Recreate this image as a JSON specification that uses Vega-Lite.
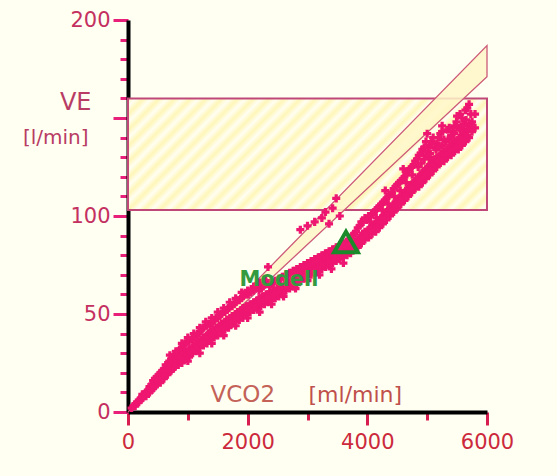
{
  "$schema": "https://vega.github.io/schema/vega-lite/v6.json",
  "width": 359,
  "height": 392,
  "autosize": {"type": "none"},
  "padding": {"left": 128, "top": 20, "right": 70, "bottom": 64},
  "background": "#fffff2",
  "config": {"view": {"stroke": null}, "font": "DejaVu Sans"},
  "datasets": {
    "zone": [{"x1": 0, "x2": 6000, "y1": 103, "y2": 160}],
    "band": [{"vco2": 0, "lo": 0, "hi": 0}, {"vco2": 6000, "lo": 171, "hi": 187}],
    "model": [{"vco2": 3643, "ve": 86.7, "label": "Modell"}],
    "pts": [
      {"vco2":60,"ve":2},{"vco2":120,"ve":4},{"vco2":120,"ve":3},{"vco2":180,"ve":6},{"vco2":180,"ve":5},
      {"vco2":240,"ve":8},{"vco2":240,"ve":7},{"vco2":240,"ve":9},{"vco2":300,"ve":10},{"vco2":300,"ve":8},
      {"vco2":360,"ve":12},{"vco2":360,"ve":10},{"vco2":360,"ve":13},{"vco2":420,"ve":14},{"vco2":420,"ve":12},{"vco2":420,"ve":16},
      {"vco2":480,"ve":16},{"vco2":480,"ve":14},{"vco2":480,"ve":18},{"vco2":540,"ve":18},{"vco2":540,"ve":15},{"vco2":540,"ve":20},
      {"vco2":600,"ve":20},{"vco2":600,"ve":17},{"vco2":600,"ve":22},{"vco2":660,"ve":22},{"vco2":660,"ve":19},{"vco2":660,"ve":24},
      {"vco2":720,"ve":24},{"vco2":720,"ve":21},{"vco2":720,"ve":27},{"vco2":780,"ve":26},{"vco2":780,"ve":23},{"vco2":780,"ve":29},
      {"vco2":840,"ve":27},{"vco2":840,"ve":24},{"vco2":840,"ve":31},{"vco2":900,"ve":29},{"vco2":900,"ve":25},{"vco2":900,"ve":33},
      {"vco2":960,"ve":30},{"vco2":960,"ve":27},{"vco2":960,"ve":35},{"vco2":1020,"ve":32},{"vco2":1020,"ve":28},{"vco2":1020,"ve":36},
      {"vco2":1080,"ve":33},{"vco2":1080,"ve":30},{"vco2":1080,"ve":38},{"vco2":1140,"ve":35},{"vco2":1140,"ve":31},{"vco2":1140,"ve":39},
      {"vco2":1200,"ve":36},{"vco2":1200,"ve":33},{"vco2":1200,"ve":41},{"vco2":1260,"ve":38},{"vco2":1260,"ve":34},{"vco2":1260,"ve":43},
      {"vco2":1320,"ve":39},{"vco2":1320,"ve":35},{"vco2":1320,"ve":44},{"vco2":1380,"ve":41},{"vco2":1380,"ve":37},{"vco2":1380,"ve":45},
      {"vco2":1440,"ve":42},{"vco2":1440,"ve":38},{"vco2":1440,"ve":47},{"vco2":1500,"ve":43},{"vco2":1500,"ve":39},{"vco2":1500,"ve":48},
      {"vco2":1560,"ve":45},{"vco2":1560,"ve":41},{"vco2":1560,"ve":50},{"vco2":1620,"ve":46},{"vco2":1620,"ve":42},{"vco2":1620,"ve":51},
      {"vco2":1680,"ve":47},{"vco2":1680,"ve":43},{"vco2":1680,"ve":53},{"vco2":1740,"ve":49},{"vco2":1740,"ve":45},{"vco2":1740,"ve":54},
      {"vco2":1800,"ve":50},{"vco2":1800,"ve":46},{"vco2":1800,"ve":56},{"vco2":1860,"ve":51},{"vco2":1860,"ve":47},{"vco2":1860,"ve":57},
      {"vco2":1920,"ve":53},{"vco2":1920,"ve":48},{"vco2":1920,"ve":59},{"vco2":1980,"ve":54},{"vco2":1980,"ve":50},{"vco2":1980,"ve":60},
      {"vco2":2040,"ve":55},{"vco2":2040,"ve":51},{"vco2":2040,"ve":61},{"vco2":2100,"ve":56},{"vco2":2100,"ve":52},{"vco2":2100,"ve":62},
      {"vco2":2160,"ve":57},{"vco2":2160,"ve":53},{"vco2":2160,"ve":64},{"vco2":2220,"ve":58},{"vco2":2220,"ve":54},{"vco2":2220,"ve":63},
      {"vco2":2280,"ve":59},{"vco2":2280,"ve":55},{"vco2":2280,"ve":65},{"vco2":2340,"ve":60},{"vco2":2340,"ve":56},{"vco2":2340,"ve":74},
      {"vco2":2400,"ve":61},{"vco2":2400,"ve":57},{"vco2":2400,"ve":66},{"vco2":2460,"ve":62},{"vco2":2460,"ve":58},{"vco2":2460,"ve":67},
      {"vco2":2520,"ve":63},{"vco2":2520,"ve":59},{"vco2":2520,"ve":68},{"vco2":2580,"ve":64},{"vco2":2580,"ve":60},{"vco2":2580,"ve":69},
      {"vco2":2640,"ve":65},{"vco2":2640,"ve":62},{"vco2":2640,"ve":70},{"vco2":2700,"ve":66},{"vco2":2700,"ve":63},{"vco2":2700,"ve":71},
      {"vco2":2760,"ve":68},{"vco2":2760,"ve":64},{"vco2":2760,"ve":72},{"vco2":2820,"ve":69},{"vco2":2820,"ve":65},{"vco2":2820,"ve":73},
      {"vco2":2880,"ve":70},{"vco2":2880,"ve":67},{"vco2":2880,"ve":74},{"vco2":2880,"ve":93},{"vco2":2940,"ve":71},{"vco2":2940,"ve":68},{"vco2":2940,"ve":75},
      {"vco2":3000,"ve":72},{"vco2":3000,"ve":69},{"vco2":3000,"ve":76},{"vco2":3000,"ve":95},{"vco2":3060,"ve":73},{"vco2":3060,"ve":70},{"vco2":3060,"ve":77},
      {"vco2":3120,"ve":74},{"vco2":3120,"ve":71},{"vco2":3120,"ve":78},{"vco2":3120,"ve":97},{"vco2":3180,"ve":75},{"vco2":3180,"ve":72},{"vco2":3180,"ve":79},
      {"vco2":3240,"ve":76},{"vco2":3240,"ve":73},{"vco2":3240,"ve":80},{"vco2":3240,"ve":99},{"vco2":3300,"ve":77},{"vco2":3300,"ve":74},{"vco2":3300,"ve":81},{"vco2":3300,"ve":102},
      {"vco2":3360,"ve":78},{"vco2":3360,"ve":75},{"vco2":3360,"ve":82},{"vco2":3360,"ve":96},{"vco2":3420,"ve":79},{"vco2":3420,"ve":76},{"vco2":3420,"ve":83},{"vco2":3420,"ve":104},
      {"vco2":3480,"ve":80},{"vco2":3480,"ve":77},{"vco2":3480,"ve":84},{"vco2":3480,"ve":109},{"vco2":3540,"ve":81},{"vco2":3540,"ve":78},{"vco2":3540,"ve":85},{"vco2":3540,"ve":100},
      {"vco2":3600,"ve":82},{"vco2":3600,"ve":79},{"vco2":3600,"ve":86},{"vco2":3660,"ve":83},{"vco2":3660,"ve":80},{"vco2":3660,"ve":87},
      {"vco2":3720,"ve":84},{"vco2":3720,"ve":81},{"vco2":3720,"ve":89},{"vco2":3780,"ve":86},{"vco2":3780,"ve":83},{"vco2":3780,"ve":91},
      {"vco2":3840,"ve":88},{"vco2":3840,"ve":84},{"vco2":3840,"ve":94},{"vco2":3900,"ve":90},{"vco2":3900,"ve":86},{"vco2":3900,"ve":97},
      {"vco2":3960,"ve":92},{"vco2":3960,"ve":88},{"vco2":3960,"ve":99},{"vco2":4020,"ve":93},{"vco2":4020,"ve":89},{"vco2":4020,"ve":100},
      {"vco2":4080,"ve":95},{"vco2":4080,"ve":91},{"vco2":4080,"ve":101},{"vco2":4140,"ve":96},{"vco2":4140,"ve":92},{"vco2":4140,"ve":103},
      {"vco2":4200,"ve":98},{"vco2":4200,"ve":94},{"vco2":4200,"ve":105},{"vco2":4260,"ve":100},{"vco2":4260,"ve":96},{"vco2":4260,"ve":107},
      {"vco2":4320,"ve":102},{"vco2":4320,"ve":98},{"vco2":4320,"ve":109},{"vco2":4380,"ve":104},{"vco2":4380,"ve":100},{"vco2":4380,"ve":111},
      {"vco2":4440,"ve":106},{"vco2":4440,"ve":102},{"vco2":4440,"ve":114},{"vco2":4500,"ve":108},{"vco2":4500,"ve":104},{"vco2":4500,"ve":116},
      {"vco2":4560,"ve":110},{"vco2":4560,"ve":106},{"vco2":4560,"ve":118},{"vco2":4620,"ve":112},{"vco2":4620,"ve":108},{"vco2":4620,"ve":120},
      {"vco2":4680,"ve":114},{"vco2":4680,"ve":110},{"vco2":4680,"ve":123},{"vco2":4740,"ve":116},{"vco2":4740,"ve":112},{"vco2":4740,"ve":125},
      {"vco2":4800,"ve":118},{"vco2":4800,"ve":114},{"vco2":4800,"ve":128},{"vco2":4860,"ve":120},{"vco2":4860,"ve":115},{"vco2":4860,"ve":131},
      {"vco2":4920,"ve":122},{"vco2":4920,"ve":117},{"vco2":4920,"ve":134},{"vco2":4980,"ve":124},{"vco2":4980,"ve":119},{"vco2":4980,"ve":138},{"vco2":4980,"ve":131},
      {"vco2":5040,"ve":126},{"vco2":5040,"ve":121},{"vco2":5040,"ve":136},{"vco2":5040,"ve":130},{"vco2":5100,"ve":128},{"vco2":5100,"ve":123},{"vco2":5100,"ve":140},
      {"vco2":5160,"ve":130},{"vco2":5160,"ve":125},{"vco2":5160,"ve":137},{"vco2":5220,"ve":131},{"vco2":5220,"ve":127},{"vco2":5220,"ve":142},
      {"vco2":5280,"ve":133},{"vco2":5280,"ve":128},{"vco2":5280,"ve":139},{"vco2":5340,"ve":134},{"vco2":5340,"ve":130},{"vco2":5340,"ve":144},
      {"vco2":5400,"ve":136},{"vco2":5400,"ve":131},{"vco2":5400,"ve":141},{"vco2":5460,"ve":138},{"vco2":5460,"ve":133},{"vco2":5460,"ve":146},
      {"vco2":5520,"ve":139},{"vco2":5520,"ve":134},{"vco2":5520,"ve":145},{"vco2":5580,"ve":141},{"vco2":5580,"ve":136},{"vco2":5580,"ve":150},
      {"vco2":5640,"ve":143},{"vco2":5640,"ve":138},{"vco2":5640,"ve":154},{"vco2":5700,"ve":146},{"vco2":5700,"ve":140},{"vco2":5700,"ve":157},
      {"vco2":5750,"ve":148},{"vco2":5750,"ve":143},{"vco2":5800,"ve":152},{"vco2":5800,"ve":145},
      {"vco2":90,"ve":3},{"vco2":150,"ve":5},{"vco2":210,"ve":7},{"vco2":210,"ve":6},{"vco2":270,"ve":9},{"vco2":270,"ve":8},
      {"vco2":330,"ve":11},{"vco2":330,"ve":10},{"vco2":390,"ve":13},{"vco2":390,"ve":11},{"vco2":390,"ve":14},
      {"vco2":450,"ve":15},{"vco2":450,"ve":13},{"vco2":450,"ve":17},{"vco2":510,"ve":17},{"vco2":510,"ve":16},{"vco2":510,"ve":19},
      {"vco2":570,"ve":19},{"vco2":570,"ve":17},{"vco2":570,"ve":21},{"vco2":630,"ve":21},{"vco2":630,"ve":19},{"vco2":630,"ve":24},
      {"vco2":690,"ve":23},{"vco2":690,"ve":21},{"vco2":690,"ve":26},{"vco2":750,"ve":25},{"vco2":750,"ve":22},{"vco2":750,"ve":28},
      {"vco2":810,"ve":26},{"vco2":810,"ve":24},{"vco2":810,"ve":30},{"vco2":870,"ve":28},{"vco2":870,"ve":26},{"vco2":870,"ve":32},
      {"vco2":930,"ve":30},{"vco2":930,"ve":27},{"vco2":930,"ve":34},{"vco2":990,"ve":31},{"vco2":990,"ve":29},{"vco2":990,"ve":36},
      {"vco2":1050,"ve":32},{"vco2":1050,"ve":30},{"vco2":1050,"ve":37},{"vco2":1110,"ve":34},{"vco2":1110,"ve":32},{"vco2":1110,"ve":38},
      {"vco2":1170,"ve":35},{"vco2":1170,"ve":33},{"vco2":1170,"ve":40},{"vco2":1230,"ve":37},{"vco2":1230,"ve":35},{"vco2":1230,"ve":42},
      {"vco2":1290,"ve":38},{"vco2":1290,"ve":36},{"vco2":1290,"ve":44},{"vco2":1350,"ve":40},{"vco2":1350,"ve":38},{"vco2":1350,"ve":45},
      {"vco2":1410,"ve":41},{"vco2":1410,"ve":39},{"vco2":1410,"ve":46},{"vco2":1470,"ve":43},{"vco2":1470,"ve":41},{"vco2":1470,"ve":48},
      {"vco2":1530,"ve":44},{"vco2":1530,"ve":42},{"vco2":1530,"ve":49},{"vco2":1590,"ve":45},{"vco2":1590,"ve":43},{"vco2":1590,"ve":51},
      {"vco2":1650,"ve":47},{"vco2":1650,"ve":45},{"vco2":1650,"ve":52},{"vco2":1710,"ve":48},{"vco2":1710,"ve":46},{"vco2":1710,"ve":54},
      {"vco2":1770,"ve":49},{"vco2":1770,"ve":47},{"vco2":1770,"ve":55},{"vco2":1830,"ve":51},{"vco2":1830,"ve":49},{"vco2":1830,"ve":57},
      {"vco2":1890,"ve":52},{"vco2":1890,"ve":50},{"vco2":1890,"ve":58},{"vco2":1950,"ve":53},{"vco2":1950,"ve":51},{"vco2":1950,"ve":60},
      {"vco2":2010,"ve":54},{"vco2":2010,"ve":52},{"vco2":2010,"ve":60},{"vco2":2070,"ve":55},{"vco2":2070,"ve":53},{"vco2":2070,"ve":62},
      {"vco2":2130,"ve":56},{"vco2":2130,"ve":54},{"vco2":2130,"ve":63},{"vco2":2190,"ve":58},{"vco2":2190,"ve":56},{"vco2":2190,"ve":62},
      {"vco2":2250,"ve":59},{"vco2":2250,"ve":57},{"vco2":2250,"ve":64},{"vco2":2310,"ve":60},{"vco2":2310,"ve":58},{"vco2":2310,"ve":66},
      {"vco2":2370,"ve":61},{"vco2":2370,"ve":59},{"vco2":2370,"ve":64},{"vco2":2430,"ve":62},{"vco2":2430,"ve":60},{"vco2":2430,"ve":66},
      {"vco2":2490,"ve":63},{"vco2":2490,"ve":61},{"vco2":2490,"ve":67},{"vco2":2550,"ve":64},{"vco2":2550,"ve":62},{"vco2":2550,"ve":68},
      {"vco2":2610,"ve":65},{"vco2":2610,"ve":63},{"vco2":2610,"ve":69},{"vco2":2670,"ve":66},{"vco2":2670,"ve":64},{"vco2":2670,"ve":70},
      {"vco2":2730,"ve":67},{"vco2":2730,"ve":65},{"vco2":2730,"ve":71},{"vco2":2790,"ve":68},{"vco2":2790,"ve":66},{"vco2":2790,"ve":72},
      {"vco2":2850,"ve":69},{"vco2":2850,"ve":67},{"vco2":2850,"ve":73},{"vco2":2910,"ve":70},{"vco2":2910,"ve":69},{"vco2":2910,"ve":74},
      {"vco2":2970,"ve":71},{"vco2":2970,"ve":70},{"vco2":2970,"ve":75},{"vco2":3030,"ve":72},{"vco2":3030,"ve":71},{"vco2":3030,"ve":76},
      {"vco2":3090,"ve":73},{"vco2":3090,"ve":72},{"vco2":3090,"ve":77},{"vco2":3150,"ve":74},{"vco2":3150,"ve":73},{"vco2":3150,"ve":78},
      {"vco2":3210,"ve":75},{"vco2":3210,"ve":74},{"vco2":3210,"ve":79},{"vco2":3270,"ve":76},{"vco2":3270,"ve":75},{"vco2":3270,"ve":80},
      {"vco2":3330,"ve":77},{"vco2":3330,"ve":76},{"vco2":3330,"ve":81},{"vco2":3390,"ve":78},{"vco2":3390,"ve":77},{"vco2":3390,"ve":82},
      {"vco2":3450,"ve":79},{"vco2":3450,"ve":78},{"vco2":3450,"ve":83},{"vco2":3510,"ve":80},{"vco2":3510,"ve":79},{"vco2":3510,"ve":84},
      {"vco2":3570,"ve":81},{"vco2":3570,"ve":80},{"vco2":3570,"ve":85},{"vco2":3630,"ve":82},{"vco2":3630,"ve":81},{"vco2":3630,"ve":86},
      {"vco2":3690,"ve":83},{"vco2":3690,"ve":82},{"vco2":3690,"ve":88},{"vco2":3750,"ve":85},{"vco2":3750,"ve":84},{"vco2":3750,"ve":90},
      {"vco2":3810,"ve":87},{"vco2":3810,"ve":85},{"vco2":3810,"ve":92},{"vco2":3870,"ve":89},{"vco2":3870,"ve":87},{"vco2":3870,"ve":95},
      {"vco2":3930,"ve":91},{"vco2":3930,"ve":89},{"vco2":3930,"ve":97},{"vco2":3990,"ve":92},{"vco2":3990,"ve":91},{"vco2":3990,"ve":98},
      {"vco2":4050,"ve":94},{"vco2":4050,"ve":92},{"vco2":4050,"ve":100},{"vco2":4110,"ve":95},{"vco2":4110,"ve":94},{"vco2":4110,"ve":102},
      {"vco2":4170,"ve":97},{"vco2":4170,"ve":95},{"vco2":4170,"ve":104},{"vco2":4230,"ve":99},{"vco2":4230,"ve":97},{"vco2":4230,"ve":106},
      {"vco2":4290,"ve":101},{"vco2":4290,"ve":99},{"vco2":4290,"ve":108},{"vco2":4350,"ve":103},{"vco2":4350,"ve":101},{"vco2":4350,"ve":110},
      {"vco2":4410,"ve":105},{"vco2":4410,"ve":103},{"vco2":4410,"ve":112},{"vco2":4470,"ve":107},{"vco2":4470,"ve":105},{"vco2":4470,"ve":115},
      {"vco2":4530,"ve":109},{"vco2":4530,"ve":107},{"vco2":4530,"ve":117},{"vco2":4590,"ve":111},{"vco2":4590,"ve":109},{"vco2":4590,"ve":119},
      {"vco2":4650,"ve":113},{"vco2":4650,"ve":111},{"vco2":4650,"ve":121},{"vco2":4710,"ve":115},{"vco2":4710,"ve":113},{"vco2":4710,"ve":124},
      {"vco2":4770,"ve":117},{"vco2":4770,"ve":115},{"vco2":4770,"ve":126},{"vco2":4830,"ve":119},{"vco2":4830,"ve":116},{"vco2":4830,"ve":129},
      {"vco2":4890,"ve":121},{"vco2":4890,"ve":118},{"vco2":4890,"ve":132},{"vco2":4950,"ve":123},{"vco2":4950,"ve":120},{"vco2":4950,"ve":135},
      {"vco2":5010,"ve":125},{"vco2":5010,"ve":122},{"vco2":5010,"ve":133},{"vco2":5070,"ve":127},{"vco2":5070,"ve":124},{"vco2":5070,"ve":138},
      {"vco2":5130,"ve":129},{"vco2":5130,"ve":126},{"vco2":5130,"ve":135},{"vco2":5190,"ve":130},{"vco2":5190,"ve":128},{"vco2":5190,"ve":140},
      {"vco2":5250,"ve":132},{"vco2":5250,"ve":129},{"vco2":5250,"ve":143},{"vco2":5310,"ve":133},{"vco2":5310,"ve":131},{"vco2":5310,"ve":138},
      {"vco2":5370,"ve":135},{"vco2":5370,"ve":132},{"vco2":5370,"ve":145},{"vco2":5430,"ve":137},{"vco2":5430,"ve":134},{"vco2":5430,"ve":143},
      {"vco2":5490,"ve":138},{"vco2":5490,"ve":135},{"vco2":5490,"ve":148},{"vco2":5550,"ve":140},{"vco2":5550,"ve":137},{"vco2":5550,"ve":152},
      {"vco2":5610,"ve":142},{"vco2":5610,"ve":139},{"vco2":5610,"ve":147},{"vco2":5670,"ve":144},{"vco2":5670,"ve":141},{"vco2":5670,"ve":155},
      {"vco2":5730,"ve":147},{"vco2":5730,"ve":145},{"vco2":5730,"ve":152},
      {"vco2":700,"ve":29},{"vco2":800,"ve":31},{"vco2":900,"ve":35},{"vco2":1000,"ve":38},{"vco2":1100,"ve":40},{"vco2":1200,"ve":43},
      {"vco2":1300,"ve":46},{"vco2":1400,"ve":48},{"vco2":1500,"ve":51},{"vco2":1600,"ve":53},{"vco2":1700,"ve":56},{"vco2":1800,"ve":58},
      {"vco2":1900,"ve":61},{"vco2":2000,"ve":62},{"vco2":2100,"ve":64},{"vco2":2200,"ve":66},{"vco2":2300,"ve":67},
      {"vco2":1000,"ve":26},{"vco2":1200,"ve":30},{"vco2":1400,"ve":35},{"vco2":1600,"ve":39},{"vco2":1800,"ve":44},{"vco2":2000,"ve":48},
      {"vco2":2200,"ve":51},{"vco2":2400,"ve":55},{"vco2":2600,"ve":59},{"vco2":2800,"ve":63},{"vco2":3000,"ve":67},{"vco2":3200,"ve":70},
      {"vco2":3400,"ve":73},{"vco2":3600,"ve":76},
      {"vco2":4050,"ve":97},{"vco2":4150,"ve":99},{"vco2":4250,"ve":103},{"vco2":4350,"ve":106},{"vco2":4450,"ve":110},{"vco2":4550,"ve":113},
      {"vco2":4650,"ve":117},{"vco2":4750,"ve":121},{"vco2":4850,"ve":125},{"vco2":4950,"ve":129},{"vco2":5050,"ve":132},{"vco2":5150,"ve":134},
      {"vco2":5250,"ve":136},{"vco2":5350,"ve":139},{"vco2":5450,"ve":142},{"vco2":5550,"ve":144},{"vco2":5650,"ve":149},{"vco2":4900,"ve":127},
      {"vco2":5000,"ve":131},{"vco2":5200,"ve":135},{"vco2":5400,"ve":140},{"vco2":5600,"ve":146},
      {"vco2":4300,"ve":113},{"vco2":4600,"ve":124},{"vco2":5000,"ve":142},{"vco2":5250,"ve":146},{"vco2":5500,"ve":151}
    ]
  },
  "layer": [
    {
      "data": {"name": "zone"},
      "mark": {
        "type": "rect",
        "stroke": "#c04878",
        "strokeWidth": 2,
        "fill": {
          "gradient": "linear", "x1": 0, "y1": 0, "x2": 1.2, "y2": 0.367,
          "stops": [
            {"offset":0,"color":"#fff6b8"},{"offset":0.0167,"color":"#fffef2"},{"offset":0.0333,"color":"#fff6b8"},{"offset":0.05,"color":"#fffef2"},
            {"offset":0.0667,"color":"#fff6b8"},{"offset":0.0833,"color":"#fffef2"},{"offset":0.1,"color":"#fff6b8"},{"offset":0.1167,"color":"#fffef2"},
            {"offset":0.1333,"color":"#fff6b8"},{"offset":0.15,"color":"#fffef2"},{"offset":0.1667,"color":"#fff6b8"},{"offset":0.1833,"color":"#fffef2"},
            {"offset":0.2,"color":"#fff6b8"},{"offset":0.2167,"color":"#fffef2"},{"offset":0.2333,"color":"#fff6b8"},{"offset":0.25,"color":"#fffef2"},
            {"offset":0.2667,"color":"#fff6b8"},{"offset":0.2833,"color":"#fffef2"},{"offset":0.3,"color":"#fff6b8"},{"offset":0.3167,"color":"#fffef2"},
            {"offset":0.3333,"color":"#fff6b8"},{"offset":0.35,"color":"#fffef2"},{"offset":0.3667,"color":"#fff6b8"},{"offset":0.3833,"color":"#fffef2"},
            {"offset":0.4,"color":"#fff6b8"},{"offset":0.4167,"color":"#fffef2"},{"offset":0.4333,"color":"#fff6b8"},{"offset":0.45,"color":"#fffef2"},
            {"offset":0.4667,"color":"#fff6b8"},{"offset":0.4833,"color":"#fffef2"},{"offset":0.5,"color":"#fff6b8"},{"offset":0.5167,"color":"#fffef2"},
            {"offset":0.5333,"color":"#fff6b8"},{"offset":0.55,"color":"#fffef2"},{"offset":0.5667,"color":"#fff6b8"},{"offset":0.5833,"color":"#fffef2"},
            {"offset":0.6,"color":"#fff6b8"},{"offset":0.6167,"color":"#fffef2"},{"offset":0.6333,"color":"#fff6b8"},{"offset":0.65,"color":"#fffef2"},
            {"offset":0.6667,"color":"#fff6b8"},{"offset":0.6833,"color":"#fffef2"},{"offset":0.7,"color":"#fff6b8"},{"offset":0.7167,"color":"#fffef2"},
            {"offset":0.7333,"color":"#fff6b8"},{"offset":0.75,"color":"#fffef2"},{"offset":0.7667,"color":"#fff6b8"},{"offset":0.7833,"color":"#fffef2"},
            {"offset":0.8,"color":"#fff6b8"},{"offset":0.8167,"color":"#fffef2"},{"offset":0.8333,"color":"#fff6b8"},{"offset":0.85,"color":"#fffef2"},
            {"offset":0.8667,"color":"#fff6b8"},{"offset":0.8833,"color":"#fffef2"},{"offset":0.9,"color":"#fff6b8"},{"offset":0.9167,"color":"#fffef2"},
            {"offset":0.9333,"color":"#fff6b8"},{"offset":0.95,"color":"#fffef2"},{"offset":0.9667,"color":"#fff6b8"},{"offset":0.9833,"color":"#fffef2"},
            {"offset":1,"color":"#fff6b8"}
          ]
        }
      },
      "encoding": {
        "x": {
          "field": "x1", "type": "quantitative",
          "scale": {"domain": [0, 6000], "nice": false, "zero": true},
          "axis": {
            "orient": "bottom",
            "values": [1000, 3000, 5000],
            "labels": false, "domain": false, "grid": false,
            "tickSize": 8, "tickWidth": 3, "tickColor": "#d81e50",
            "title": "[ml/min]",
            "titleFont": "DejaVu Sans", "titleFontSize": 22, "titleFontWeight": "normal",
            "titleColor": "#c0504c", "titleAlign": "left", "titleBaseline": "alphabetic",
            "titleX": 180, "titleY": -11, "titleAnchor": null
          }
        },
        "x2": {"field": "x2"},
        "y": {
          "field": "y1", "type": "quantitative",
          "scale": {"domain": [0, 200], "nice": false, "zero": true},
          "axis": {
            "orient": "left",
            "values": [10, 20, 30, 40, 60, 70, 80, 90, 110, 120, 130, 140, 160, 170, 180, 190],
            "labels": false, "domain": false, "grid": false,
            "tickSize": 8, "tickWidth": 3, "tickColor": "#e8207a",
            "title": "[l/min]",
            "titleFont": "DejaVu Sans", "titleFontSize": 20, "titleFontWeight": "normal",
            "titleColor": "#b83c64", "titleAngle": 0, "titleAlign": "right", "titleBaseline": "alphabetic",
            "titleX": -40, "titleY": 123, "titleAnchor": null
          }
        },
        "y2": {"field": "y2"}
      }
    },
    {
      "data": {"name": "band"},
      "mark": {"type": "area", "fill": "#fff7c8", "fillOpacity": 0.85, "stroke": "#cc5a78", "strokeWidth": 1.3},
      "encoding": {
        "x": {"field": "vco2", "type": "quantitative", "axis": null},
        "y": {"field": "lo", "type": "quantitative", "axis": null},
        "y2": {"field": "hi"}
      }
    },
    {
      "data": {"name": "pts"},
      "mark": {"type": "point", "shape": "cross", "filled": true, "size": 65, "color": "#ee1670", "opacity": 1},
      "encoding": {
        "x": {
          "field": "vco2", "type": "quantitative",
          "axis": {
            "orient": "bottom",
            "values": [0, 2000, 4000, 6000],
            "format": "d",
            "grid": false,
            "domainColor": "#000000", "domainWidth": 4,
            "tickSize": 13, "tickWidth": 3, "tickColor": "#d81e50",
            "labelFont": "DejaVu Sans", "labelFontSize": 21, "labelColor": "#cc2a3c",
            "labelPadding": 6, "labelFlush": false, "labelOverlap": false,
            "title": "VCO2",
            "titleFont": "DejaVu Sans", "titleFontSize": 23, "titleFontWeight": "normal",
            "titleColor": "#c46258", "titleAlign": "left", "titleBaseline": "alphabetic",
            "titleX": 82, "titleY": -11, "titleAnchor": null
          }
        },
        "y": {
          "field": "ve", "type": "quantitative",
          "axis": {
            "orient": "left",
            "values": [0, 50, 100, 150, 200],
            "format": "d",
            "labelExpr": "datum.value == 150 ? '' : datum.label",
            "grid": false,
            "domainColor": "#000000", "domainWidth": 4,
            "tickSize": 15, "tickWidth": 3, "tickColor": "#e8207a",
            "labelFont": "DejaVu Sans", "labelFontSize": 21, "labelColor": "#c43060",
            "labelPadding": 3, "labelFlush": false, "labelOverlap": false,
            "title": "VE",
            "titleFont": "DejaVu Sans", "titleFontSize": 24, "titleFontWeight": "normal",
            "titleColor": "#b83c64", "titleAngle": 0, "titleAlign": "right", "titleBaseline": "alphabetic",
            "titleX": -37, "titleY": 89, "titleAnchor": null
          }
        }
      }
    },
    {
      "data": {"name": "model"},
      "mark": {"type": "point", "shape": "triangle-up", "filled": false, "size": 560, "stroke": "#1a8a2a", "strokeWidth": 4, "opacity": 1},
      "encoding": {
        "x": {"field": "vco2", "type": "quantitative", "axis": null},
        "y": {"field": "ve", "type": "quantitative", "axis": null}
      }
    },
    {
      "data": {"name": "model"},
      "mark": {"type": "text", "font": "DejaVu Sans", "fontSize": 21, "fontWeight": "bold", "color": "#349a40", "align": "center", "baseline": "middle", "dx": -67, "dy": 38},
      "encoding": {
        "x": {"field": "vco2", "type": "quantitative", "axis": null},
        "y": {"field": "ve", "type": "quantitative", "axis": null},
        "text": {"field": "label"}
      }
    }
  ],
  "resolve": {"axis": {"x": "independent", "y": "independent"}}
}
